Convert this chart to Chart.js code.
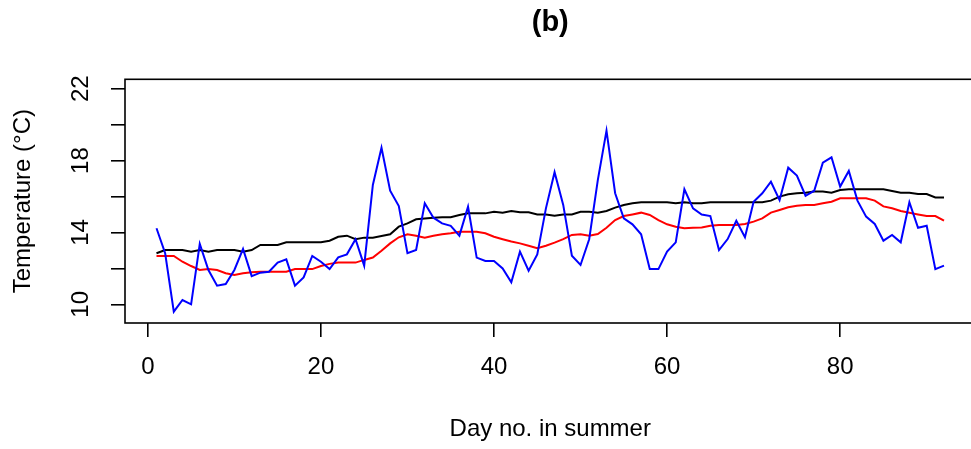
<!DOCTYPE html>
<html><head><meta charset="utf-8">
<script src="https://cdn.jsdelivr.net/npm/chart.js@4.4.1/dist/chart.umd.min.js"></script>
<style>html,body{margin:0;padding:0;overflow:hidden;background:#fff;width:971px;height:449px}canvas{display:block}</style>
</head><body><canvas id="c" width="980" height="449"></canvas>
<script>
const days = [1,2,3,4,5,6,7,8,9,10,11,12,13,14,15,16,17,18,19,20,21,22,23,24,25,26,27,28,29,30,31,32,33,34,35,36,37,38,39,40,41,42,43,44,45,46,47,48,49,50,51,52,53,54,55,56,57,58,59,60,61,62,63,64,65,66,67,68,69,70,71,72,73,74,75,76,77,78,79,80,81,82,83,84,85,86,87,88,89,90,91,92];
const blueSeries = [14.23,12.84,9.59,10.24,10.0,13.36,11.91,11.04,11.13,11.91,13.08,11.57,11.76,11.81,12.32,12.5,11.04,11.5,12.69,12.37,11.96,12.61,12.78,13.62,12.15,16.64,18.71,16.32,15.47,12.84,13.02,15.62,14.82,14.5,14.37,13.82,15.43,12.6,12.41,12.41,12.0,11.22,12.93,11.87,12.78,15.34,17.35,15.53,12.7,12.19,13.62,16.92,19.66,16.18,14.78,14.45,13.9,11.96,11.96,12.93,13.45,16.4,15.34,15.0,14.91,13.02,13.63,14.65,13.73,15.71,16.18,16.82,15.8,17.6,17.16,16.04,16.32,17.88,18.18,16.55,17.42,15.77,14.88,14.47,13.54,13.86,13.45,15.68,14.26,14.37,11.96,12.15];
const redSeries = [12.69,12.69,12.69,12.37,12.13,11.91,11.96,11.91,11.73,11.63,11.73,11.78,11.81,11.81,11.81,11.81,11.96,11.96,11.96,12.13,12.25,12.32,12.32,12.32,12.47,12.6,12.98,13.39,13.73,13.9,13.82,13.71,13.82,13.9,13.95,14.04,14.04,14.04,13.95,13.76,13.62,13.49,13.39,13.26,13.12,13.26,13.43,13.63,13.86,13.9,13.82,13.91,14.26,14.69,14.91,15.0,15.1,14.97,14.69,14.45,14.32,14.23,14.26,14.28,14.37,14.41,14.41,14.41,14.47,14.6,14.78,15.1,15.25,15.4,15.49,15.53,15.53,15.62,15.71,15.9,15.9,15.9,15.9,15.77,15.45,15.34,15.19,15.1,15.0,14.91,14.91,14.65];
const blackSeries = [12.84,13.02,13.02,13.02,12.93,13.02,12.93,13.02,13.02,13.02,12.93,13.02,13.3,13.3,13.3,13.45,13.45,13.45,13.45,13.45,13.54,13.76,13.82,13.62,13.71,13.71,13.8,13.9,14.32,14.5,14.73,14.78,14.82,14.84,14.84,14.97,15.06,15.06,15.06,15.15,15.1,15.19,15.12,15.12,15.0,15.0,14.93,15.0,15.0,15.15,15.15,15.1,15.19,15.38,15.53,15.62,15.68,15.68,15.68,15.68,15.62,15.68,15.62,15.62,15.68,15.68,15.68,15.68,15.68,15.68,15.68,15.77,15.99,16.12,16.18,16.21,16.27,16.27,16.21,16.36,16.4,16.4,16.4,16.4,16.4,16.3,16.21,16.21,16.14,16.14,15.95,15.95];
const xTickValues = [0,20,40,60,80];
const xTickLabels = ['0','20','40','60','80'];
const yTickValues = [10,12,14,16,18,20,22];
const yTickLabels = ['10','','14','','18','','22'];
const chartTitle = '(b)';
const xTitle = 'Day no. in summer';
const yTitle = 'Temperature (\u00B0C)';

const FONT = '"Liberation Sans", Arial, sans-serif';
const toPts = arr => arr.map((v, i) => ({x: days[i], y: v}));

const framePlugin = {
  id: 'frame',
  afterDraw(chart) {
    const {ctx, chartArea: a} = chart;
    ctx.save();
    ctx.strokeStyle = '#000';
    ctx.lineWidth = 1.6;
    ctx.strokeRect(a.left, a.top, a.right - a.left, a.bottom - a.top);
    ctx.font = 'bold 29px ' + FONT;
    ctx.fillStyle = '#000';
    ctx.textAlign = 'center';
    ctx.textBaseline = 'middle';
    ctx.fillText(chartTitle, (a.left + a.right) / 2, 23);
    ctx.restore();
  }
};

new Chart(document.getElementById('c'), {
  type: 'line',
  data: {
    datasets: [
      {data: toPts(blueSeries), borderColor: '#0000FF', borderWidth: 2, order: 0},
      {data: toPts(redSeries), borderColor: '#FF0000', borderWidth: 2, order: 1},
      {data: toPts(blackSeries), borderColor: '#000000', borderWidth: 2, order: 2}
    ]
  },
  options: {
    responsive: false,
    devicePixelRatio: 1,
    animation: false,
    events: [],
    layout: {padding: {top: 79.3, right: 4.5, left: 0, bottom: 0}},
    elements: {point: {radius: 0}, line: {tension: 0}},
    plugins: {legend: {display: false}, tooltip: {enabled: false}, title: {display: false}},
    scales: {
      x: {
        type: 'linear', position: 'bottom', min: -2.64, max: 95.64,
        afterBuildTicks: s => { s.ticks = xTickValues.map(v => ({value: v})); },
        afterFit: s => { s.height = 126; },
        grid: {drawOnChartArea: false, drawTicks: true, tickLength: 14, color: '#000', lineWidth: 1.6},
        border: {display: false},
        ticks: {autoSkip: false, maxRotation: 0, minRotation: 0, padding: 16, color: '#000',
          font: {family: FONT, size: 24},
          callback: (v) => { const i = xTickValues.indexOf(v); return i >= 0 ? xTickLabels[i] : ''; }},
        title: {display: true, text: xTitle, color: '#000', font: {family: FONT, size: 24}, padding: {top: 0, bottom: 5}}
      },
      y: {
        type: 'linear', position: 'left', min: 8.96, max: 22.52,
        afterBuildTicks: s => { s.ticks = yTickValues.map(v => ({value: v})); },
        afterFit: s => { s.width = 125; },
        grid: {drawOnChartArea: false, drawTicks: true, tickLength: 14, color: '#000', lineWidth: 1.6},
        border: {display: false},
        ticks: {autoSkip: false, minRotation: 90, maxRotation: 90, crossAlign: 'center', padding: 16, color: '#000',
          font: {family: FONT, size: 24},
          callback: (v) => { const i = yTickValues.indexOf(v); return i >= 0 ? yTickLabels[i] : ''; }},
        title: {display: true, text: yTitle, color: '#000', font: {family: FONT, size: 24}, padding: {top: 9, bottom: 0}}
      }
    }
  },
  plugins: [framePlugin]
});
</script></body></html>
